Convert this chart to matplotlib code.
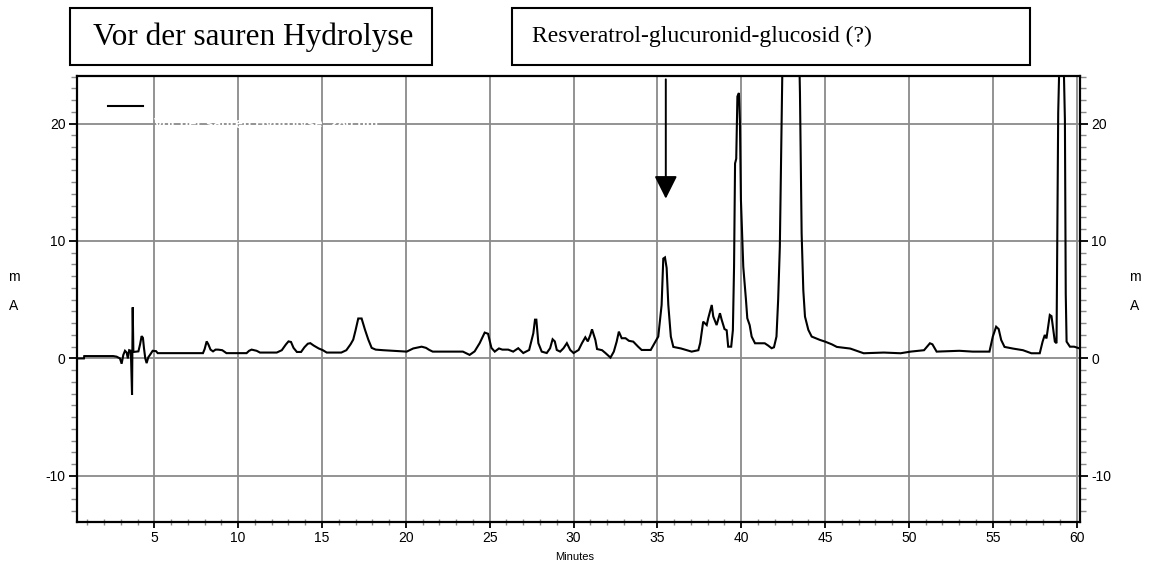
import matplotlib
matplotlib.use("Agg")
import matplotlib.pyplot as plt
from matplotlib.lines import Line2D
from matplotlib.patches import Rectangle
from matplotlib.ticker import MultipleLocator

# ---------------- data ----------------
time_min = [
    0.37, 0.80, 0.82, 2.55, 2.75, 2.95, 3.05, 3.15, 3.25, 3.35, 3.42, 3.50, 3.60,
    3.67, 3.71, 3.75, 4.05, 4.15, 4.24, 4.32, 4.38, 4.46, 4.54, 4.64, 4.74, 4.90,
    5.10, 5.20, 7.90, 8.00, 8.12, 8.22, 8.35, 8.50, 8.65, 8.80, 9.05, 9.30, 10.50,
    10.65, 10.80, 11.10, 11.30, 12.30, 12.60, 12.85, 13.00, 13.15, 13.30, 13.50,
    13.75, 13.95, 14.15, 14.30, 14.50, 14.80, 15.05, 15.28, 16.15, 16.45, 16.70,
    16.86, 17.00, 17.16, 17.36, 17.56, 17.76, 17.96, 18.20, 18.65, 20.05, 20.44,
    20.94, 21.20, 21.40, 21.60, 23.40, 23.80, 24.10, 24.40, 24.70, 24.90, 25.10,
    25.30, 25.55, 25.75, 26.10, 26.40, 26.70, 27.00, 27.35, 27.60, 27.70, 27.78,
    27.90, 28.10, 28.40, 28.60, 28.75, 28.88, 29.00, 29.20, 29.40, 29.60, 29.80,
    30.00, 30.30, 30.50, 30.70, 30.85, 31.00, 31.10, 31.30, 31.40, 31.70, 31.90,
    32.20, 32.40, 32.57, 32.70, 32.87, 33.10, 33.30, 33.56, 33.85, 34.06, 34.60,
    35.05, 35.25, 35.35, 35.45, 35.55, 35.65, 35.80, 35.95, 36.40, 37.04, 37.44,
    37.55, 37.73, 37.94, 38.03, 38.24, 38.33, 38.53, 38.73, 38.83, 39.00, 39.13,
    39.22, 39.40, 39.50, 39.57, 39.63, 39.70, 39.77, 39.86, 39.92, 39.98, 40.12,
    40.28, 40.36, 40.50, 40.62, 40.82, 41.40, 41.60, 41.81, 41.95, 42.10, 42.20,
    42.30, 42.40, 42.50, 42.95, 43.40, 43.50, 43.60, 43.70, 43.80, 44.00, 44.20,
    44.70, 45.00, 45.40, 45.70, 46.50, 47.30, 48.50, 49.50, 50.10, 50.90, 51.25,
    51.40, 51.65, 53.00, 53.80, 54.80, 55.00, 55.20, 55.35, 55.50, 55.70, 56.20,
    56.80, 57.30, 57.80, 57.97, 58.10, 58.20, 58.40, 58.50, 58.70, 58.80, 58.90,
    59.00, 59.20, 59.30, 59.35, 59.40, 59.60, 59.85, 60.20,
]
absorbance_mAU = [
    0.0, 0.0, 0.2, 0.2, 0.15, 0.0, -0.45, 0.3, 0.65, 0.5, 0.0, 0.7, 0.65,
    -3.1, 4.35, 0.55, 0.6, 1.2, 1.9, 1.75, 0.9, 0.0, -0.4, 0.1, 0.3, 0.65,
    0.62, 0.45, 0.45, 0.8, 1.45, 1.2, 0.75, 0.6, 0.75, 0.75, 0.7, 0.45, 0.45,
    0.65, 0.75, 0.65, 0.5, 0.5, 0.7, 1.2, 1.45, 1.4, 0.9, 0.55,
    0.55, 0.95, 1.25, 1.3, 1.1, 0.85, 0.7, 0.5, 0.5, 0.7, 1.2,
    1.6, 2.4, 3.4, 3.4, 2.45, 1.6, 0.9, 0.75, 0.7, 0.58, 0.85,
    1.0, 0.9, 0.72, 0.58, 0.58, 0.3, 0.6, 1.3, 2.2, 2.1, 0.9,
    0.58, 0.85, 0.75, 0.75, 0.58, 0.87, 0.46, 0.72, 2.14, 3.3, 3.3,
    1.3, 0.58, 0.46, 0.87, 1.63, 1.45, 0.72, 0.58, 0.87, 1.3, 0.72,
    0.46, 0.72, 1.3, 1.8, 1.45, 2.0, 2.48, 1.57, 0.8, 0.7, 0.46,
    0.07, 0.58, 1.43, 2.28, 1.72, 1.72, 1.5, 1.43, 1.0, 0.72, 0.72,
    1.86, 4.55, 8.5, 8.6, 7.7, 4.55, 1.86, 0.98, 0.85, 0.58, 0.70,
    1.3, 3.13, 2.84, 3.42, 4.55, 3.57, 2.84, 3.85, 3.3, 2.5, 2.4,
    1.0, 1.0, 2.4, 7.8, 16.6, 17.0, 22.3, 22.6, 20.15, 13.5, 7.8,
    5.0, 3.42, 2.84, 1.86, 1.29, 1.29, 1.1, 0.87, 0.95, 1.86, 5.0,
    9.5, 19.7, 30.0, 55.0, 30.0, 22.6, 10.65, 5.8, 3.56, 2.43, 1.86,
    1.57, 1.43, 1.2, 0.98, 0.84, 0.44, 0.5, 0.44, 0.58, 0.7, 1.29,
    1.2, 0.58, 0.65, 0.58, 0.58, 1.86, 2.7, 2.5, 1.57, 0.98, 0.84,
    0.70, 0.44, 0.44, 1.43, 2.0, 1.7, 3.7, 3.6, 1.43, 1.3, 20.9,
    27.0, 27.0, 20.3, 5.5, 1.43, 1.0, 1.0, 0.84,
]
x_ticks = [5, 10, 15, 20, 25, 30, 35, 40, 45, 50, 55, 60]
y_ticks = [-10, 0, 10, 20]
title_left = "Vor der sauren Hydrolyse"
title_right = "Resveratrol-glucuronid-glucosid (?)"
arrow_time = 35.5
arrow_from = 23.76
arrow_to = 13.6

# ---------------- figure ----------------
W, H = 1151, 566
plt.rcParams['font.family'] = ['Liberation Sans', 'DejaVu Sans']
plt.rcParams['axes.unicode_minus'] = False
fig = plt.figure(figsize=(W / 100, H / 100), dpi=100)

ax_l, ax_r, ax_t, ax_b = 76.7, 1080.0, 75.7, 521.7
ax = fig.add_axes([ax_l / W, 1 - ax_b / H, (ax_r - ax_l) / W, (ax_b - ax_t) / H])

ax.plot(time_min, absorbance_mAU, color='black', lw=1.5, solid_joinstyle='miter')
ax.set_xlim(0.37, 60.2)
ax.set_ylim(-13.9, 24.07)

ax.set_xticks(x_ticks)
ax.set_yticks(y_ticks)
ax.xaxis.set_minor_locator(MultipleLocator(1))
ax.yaxis.set_minor_locator(MultipleLocator(1))
ax.grid(True, which='major', color='#8a8a8a', lw=1.3)
ax.set_axisbelow(True)

for s in ax.spines.values():
    s.set_linewidth(1.6)
    s.set_color('black')

ax.tick_params(axis='y', which='major', direction='out', length=6, width=1.3,
               color='black', labelsize=10, left=True, right=True,
               labelleft=True, labelright=True, pad=2)
ax.tick_params(axis='y', which='minor', direction='out', length=4, width=1.0,
               color='#8a8a8a', left=True, right=True)
ax.tick_params(axis='x', which='major', direction='out', length=4, width=1.3,
               color='black', labelsize=10, pad=3, top=False)
ax.tick_params(axis='x', which='minor', direction='inout', length=5, width=1.0,
               color='#8a8a8a', top=False)

# legend key (line) as in the original
ax.legend(handles=[Line2D([], [], color='black', lw=1.5)], labels=[' '],
          loc='center left', bbox_to_anchor=((108 - ax_l) / (ax_r - ax_l), 1 - (107 - ax_t) / (ax_b - ax_t)),
          frameon=False, handlelength=2.5, borderpad=0, borderaxespad=0,
          handletextpad=0.3, fontsize=10)
# invisible (white) legend text that breaks the grid in the original
ax.text(5.0, 20.0, "Vor der sauren Hydrolyse  280 nm", color='white', fontsize=10,
        va='center', ha='left', fontweight='bold')

# arrow
ax.annotate('', xy=(arrow_time, arrow_to), xytext=(arrow_time, arrow_from),
            arrowprops=dict(arrowstyle='-|>,head_length=1.0,head_width=0.5',
                            mutation_scale=14, lw=1.4, color='black',
                            shrinkA=0, shrinkB=0))

# axis labels
fig.text(575 / W, 1 - 557 / H, "Minutes", fontsize=8, ha='center', va='center')
for xp in (14, 1135):
    fig.text(xp / W, 1 - 277 / H, "m", fontsize=10, ha='center', va='center')
    fig.text(xp / W, 1 - 306 / H, "A", fontsize=10, ha='center', va='center')

# title boxes
def box(x0, x1, y0, y1):
    fig.patches.append(Rectangle((x0 / W, 1 - y1 / H), (x1 - x0) / W, (y1 - y0) / H,
                                 transform=fig.transFigure, fill=False,
                                 edgecolor='black', lw=1.5))

box(70, 432, 8, 65)
fig.text(93 / W, 1 - 37 / H, title_left, fontsize=22.5, ha='left', va='center',
         family=['Liberation Serif', 'DejaVu Serif'])
box(512, 1030, 8, 65)
fig.text(532 / W, 1 - 36 / H, title_right, fontsize=17.0, ha='left', va='center',
         family=['Liberation Serif', 'DejaVu Serif'])

fig.savefig("out.png", dpi=100)
